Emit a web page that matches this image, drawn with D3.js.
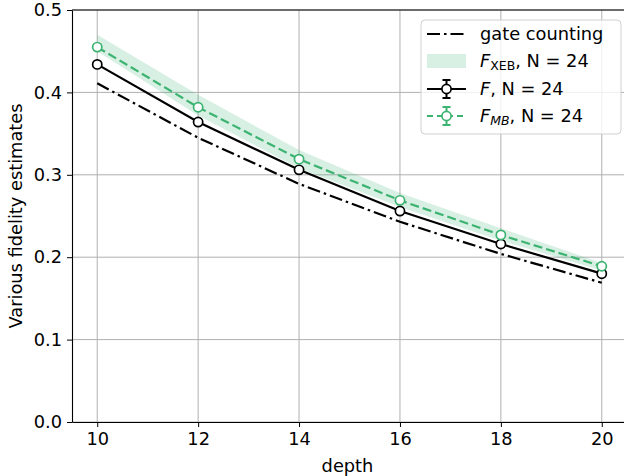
<!DOCTYPE html>
<html lang="en">
<head>
<meta charset="UTF-8">
<title>fidelity</title>
<script src="https://cdn.jsdelivr.net/npm/d3@7"></script>
<style>
  body { margin: 0; background: #fff; }
  svg { font-family: "DejaVu Sans", sans-serif; }
  .grid line { stroke: #b0b0b0; stroke-width: 1; }
  .axis path, .axis line { stroke: #000; }
  .axis text { font-size: 17.8px; fill: #000; font-family: "DejaVu Sans", sans-serif; }
</style>
</head>
<body>
<script>
var depths = [10, 12, 14, 16, 18, 20];
var gateCounting = [0.411, 0.345, 0.289, 0.243, 0.204, 0.169];
var fidF = [0.434, 0.364, 0.306, 0.256, 0.216, 0.180];
var fidMB = [0.455, 0.382, 0.319, 0.269, 0.227, 0.189];
var xebLow = [0.450, 0.372, 0.308, 0.261, 0.220, 0.184];
var xebHigh = [0.470, 0.397, 0.330, 0.278, 0.235, 0.193];
var errF = [0.003, 0.003, 0.003, 0.003, 0.003, 0.003];
var errMB = [0.003, 0.003, 0.003, 0.003, 0.003, 0.003];
var yTicks = [0, 0.1, 0.2, 0.3, 0.4, 0.5];

var width = 624, height = 476;
var m = {left: 72, top: 10, right: 624 + 3, bottom: 422};
var green = "#3cb371";

var x = d3.scaleLinear().domain([9.5, 20.5]).range([m.left, m.right]);
var y = d3.scaleLinear().domain([0, 0.5]).range([m.bottom, m.top]);

var svg = d3.select("body").append("svg").attr("width", width).attr("height", height);

// grid
var grid = svg.append("g").attr("class", "grid");
grid.selectAll("line.v").data(depths).enter().append("line")
    .attr("x1", function(d){ return x(d); }).attr("x2", function(d){ return x(d); })
    .attr("y1", m.top).attr("y2", m.bottom);
grid.selectAll("line.h").data(yTicks).enter().append("line")
    .attr("y1", function(d){ return y(d); }).attr("y2", function(d){ return y(d); })
    .attr("x1", m.left).attr("x2", m.right);

// band
var idx = d3.range(depths.length);
svg.append("path")
    .attr("d", d3.area()
        .x(function(i){ return x(depths[i]); })
        .y0(function(i){ return y(xebLow[i]); })
        .y1(function(i){ return y(xebHigh[i]); })(idx))
    .attr("fill", green).attr("fill-opacity", 0.2);

// gate counting
var line = function(arr){
    return d3.line().x(function(i){ return x(depths[i]); }).y(function(i){ return y(arr[i]); })(idx);
};
var dashDot = "13,4,2.5,4";
svg.append("path").attr("d", line(gateCounting))
    .attr("fill", "none").attr("stroke", "#000").attr("stroke-width", 2.2)
    .attr("stroke-dasharray", dashDot);

function series(vals, errs, color, dash) {
    var g = svg.append("g");
    g.append("path").attr("d", line(vals))
        .attr("fill", "none").attr("stroke", color).attr("stroke-width", 2.2)
        .attr("stroke-dasharray", dash);
    var eb = g.selectAll("g.eb").data(idx).enter().append("g");
    eb.append("line")
        .attr("x1", function(i){ return x(depths[i]); }).attr("x2", function(i){ return x(depths[i]); })
        .attr("y1", function(i){ return y(vals[i] - errs[i]); }).attr("y2", function(i){ return y(vals[i] + errs[i]); })
        .attr("stroke", color).attr("stroke-width", 2);
    [-1, 1].forEach(function(s){
        eb.append("line")
            .attr("x1", function(i){ return x(depths[i]) - 4; }).attr("x2", function(i){ return x(depths[i]) + 4; })
            .attr("y1", function(i){ return y(vals[i] + s * errs[i]); }).attr("y2", function(i){ return y(vals[i] + s * errs[i]); })
            .attr("stroke", color).attr("stroke-width", 2);
    });
    g.selectAll("circle").data(idx).enter().append("circle")
        .attr("cx", function(i){ return x(depths[i]); }).attr("cy", function(i){ return y(vals[i]); })
        .attr("r", 4.6).attr("fill", "#fff").attr("stroke", color).attr("stroke-width", 1.7);
}
series(fidF, errF, "#000", null);
series(fidMB, errMB, green, "9,4");

// axes
svg.append("g").attr("class", "axis").attr("transform", "translate(0," + m.bottom + ")")
    .call(d3.axisBottom(x).tickValues(depths).tickSize(5).tickPadding(5).tickSizeOuter(0))
    .call(function(g){ g.select(".domain").attr("stroke-width", 1.1); });
svg.append("g").attr("class", "axis").attr("transform", "translate(" + m.left + ",0)")
    .call(d3.axisLeft(y).tickValues(yTicks).tickFormat(d3.format(".1f")).tickSize(5).tickPadding(5).tickSizeOuter(0))
    .call(function(g){ g.select(".domain").attr("stroke-width", 1.1); });
svg.append("line").attr("x1", m.left).attr("x2", m.right).attr("y1", m.top).attr("y2", m.top)
    .attr("stroke", "#000").attr("stroke-width", 1.1);

svg.append("text").attr("x", (m.left + m.right) / 2 - 2).attr("y", 472)
    .attr("text-anchor", "middle").attr("font-size", 17.8).text("depth");
svg.append("text").attr("transform", "translate(22," + ((m.top + m.bottom) / 2) + ") rotate(-90)")
    .attr("text-anchor", "middle").attr("font-size", 17.8).text("Various fidelity estimates");

// legend
var lg = svg.append("g").attr("transform", "translate(421,20)");
lg.append("rect").attr("width", 200).attr("height", 114).attr("rx", 4)
    .attr("fill", "#fff").attr("fill-opacity", 0.8).attr("stroke", "#d0d0d0");
var rowY = [14, 41, 69, 96];
var hx0 = 6, hx1 = 45, tx = 59;
lg.append("line").attr("x1", hx0).attr("x2", hx1).attr("y1", rowY[0]).attr("y2", rowY[0])
    .attr("stroke", "#000").attr("stroke-width", 2.2).attr("stroke-dasharray", dashDot);
lg.append("rect").attr("x", hx0).attr("y", rowY[1] - 7).attr("width", hx1 - hx0).attr("height", 14)
    .attr("fill", green).attr("fill-opacity", 0.2);
[[rowY[2], "#000", null], [rowY[3], green, "6,4"]].forEach(function(r){
    var cx = (hx0 + hx1) / 2;
    lg.append("line").attr("x1", hx0).attr("x2", hx1).attr("y1", r[0]).attr("y2", r[0])
        .attr("stroke", r[1]).attr("stroke-width", 2.2).attr("stroke-dasharray", r[2]);
    lg.append("line").attr("x1", cx).attr("x2", cx).attr("y1", r[0] - 9).attr("y2", r[0] + 9)
        .attr("stroke", r[1]).attr("stroke-width", 2);
    [-9, 9].forEach(function(o){
        lg.append("line").attr("x1", cx - 4).attr("x2", cx + 4).attr("y1", r[0] + o).attr("y2", r[0] + o)
            .attr("stroke", r[1]).attr("stroke-width", 2);
    });
    lg.append("circle").attr("cx", cx).attr("cy", r[0]).attr("r", 4.6)
        .attr("fill", "#fff").attr("stroke", r[1]).attr("stroke-width", 1.7);
});
var fs = 17.8;
lg.append("text").attr("x", tx).attr("y", rowY[0] + 6).attr("font-size", fs).text("gate counting");
var t1 = lg.append("text").attr("x", tx).attr("y", rowY[1] + 6).attr("font-size", fs);
t1.append("tspan").attr("font-style", "italic").text("F");
t1.append("tspan").attr("font-size", 12.5).attr("dy", 3).text("XEB");
t1.append("tspan").attr("dy", -3).text(", N = 24");
var t2 = lg.append("text").attr("x", tx).attr("y", rowY[2] + 6).attr("font-size", fs);
t2.append("tspan").attr("font-style", "italic").text("F");
t2.append("tspan").text(", N = 24");
var t3 = lg.append("text").attr("x", tx).attr("y", rowY[3] + 6).attr("font-size", fs);
t3.append("tspan").attr("font-style", "italic").text("F");
t3.append("tspan").attr("font-style", "italic").attr("font-size", 12.5).attr("dy", 3).text("MB");
t3.append("tspan").attr("dy", -3).text(", N = 24");
</script>
</body>
</html>
